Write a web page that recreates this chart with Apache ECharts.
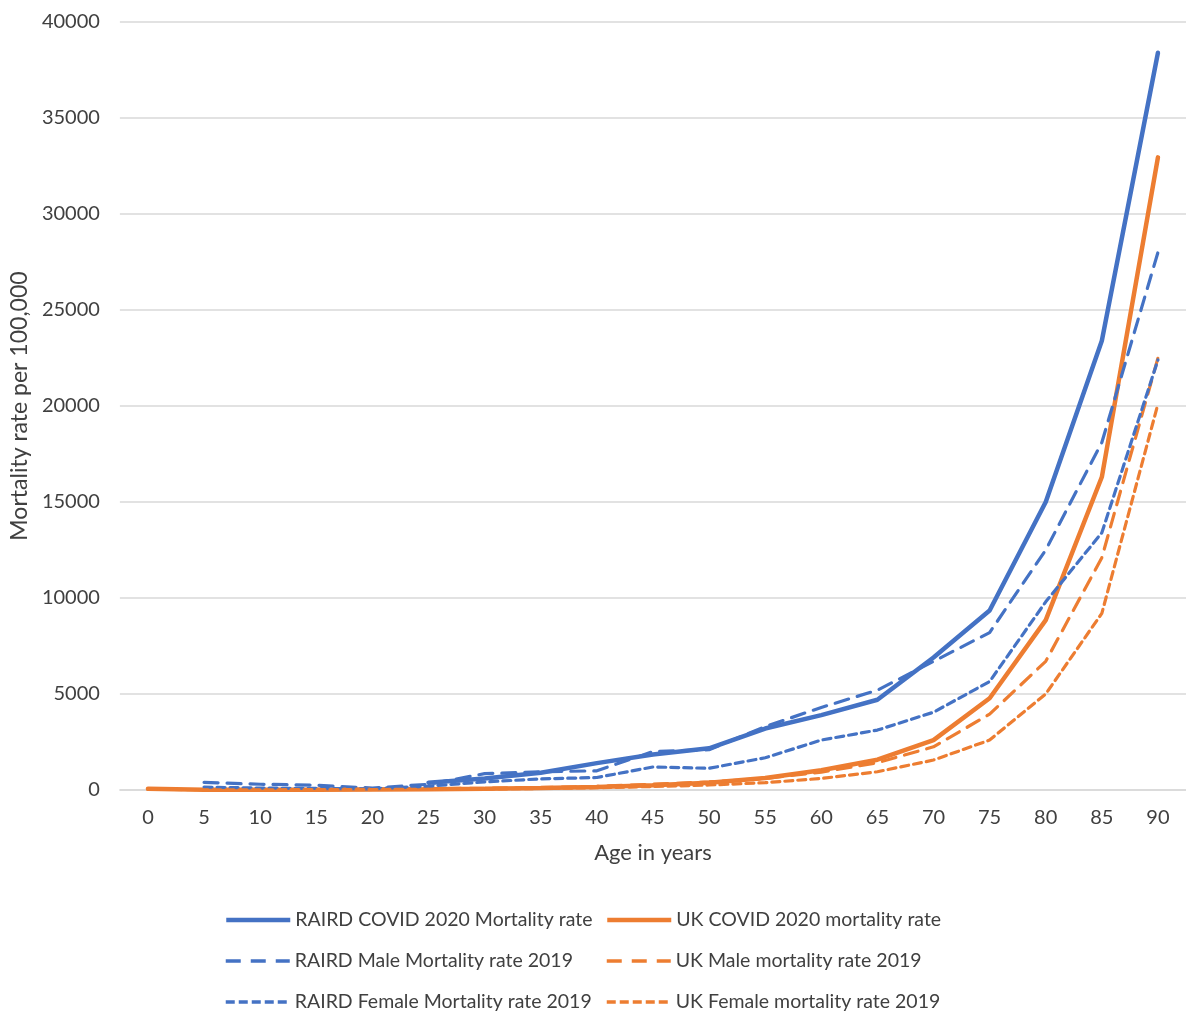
<!DOCTYPE html>
<html>
<head>
<meta charset="utf-8">
<script src="https://cdn.jsdelivr.net/npm/echarts@6/dist/echarts.min.js"></script>
<style>html,body{margin:0;padding:0;background:#fff}#c{width:1186px;height:1011px}</style>
</head>
<body>
<div id="c"></div>
<script>
const ages = ['0','5','10','15','20','25','30','35','40','45','50','55','60','65','70','75','80','85','90'];
const raird2020 = [null,null,null,null,null,380,600,900,1400,1850,2170,3200,3900,4700,6900,9350,15000,23400,38400];
const ukCovid2020 = [60,15,10,15,25,40,60,100,150,250,380,620,1030,1580,2600,4780,8850,16300,32950];
const rairdMale2019 = [null,400,300,250,100,300,850,950,1000,2000,2100,3300,4300,5200,6700,8200,12500,18100,28000];
const ukMale2019 = [50,15,12,30,60,70,90,130,190,300,420,600,930,1420,2250,3950,6700,12100,22500];
const rairdFemale2019 = [null,150,100,80,60,200,420,580,650,1200,1130,1680,2600,3120,4050,5650,9800,13400,22400];
const ukFemale2019 = [40,12,10,20,25,35,50,80,120,180,260,380,600,950,1560,2600,5000,9200,20100];
const yTicks = [0,5000,10000,15000,20000,25000,30000,35000,40000];
const legendLeft = ['RAIRD COVID 2020 Mortality rate', 'RAIRD Male Mortality rate 2019', 'RAIRD Female Mortality rate 2019'];
const legendRight = ['UK COVID 2020 mortality rate', 'UK Male mortality rate 2019', 'UK Female mortality rate 2019'];

const BLUE = '#4472C4', ORANGE = '#ED7D31';
const FONT = 'Lato';
const DASH_LONG = [14, 9], DASH_SHORT = [8, 5];
function mk(name, data, color, type, width) {
  return {
    name, type: 'line', data, symbol: 'none', connectNulls: false,
    lineStyle: { color, width, type, cap: 'round' },
    itemStyle: { color }, emphasis: { disabled: true }
  };
}
const rowTops = [905, 946, 987];
const rowStyles = [['solid', 4.5], [[15, 10], 3.5], [[9, 4], 3.5]];
const legends = [];
[[legendLeft, 219, BLUE], [legendRight, 600, ORANGE]].forEach(([names, left, color]) => {
  names.forEach((n, i) => legends.push({
    left, top: rowTops[i], itemWidth: 64, itemHeight: 14, data: [n],
    itemStyle: { opacity: 0 },
    lineStyle: { width: rowStyles[i][1], type: rowStyles[i][0], color, cap: 'butt' },
    textStyle: { fontSize: 19.5, color: '#404040', fontFamily: FONT }, selectedMode: false
  }));
});

const chart = echarts.init(document.getElementById('c'), null, { renderer: 'canvas' });
chart.setOption({
  animation: false,
  backgroundColor: '#fff',
  textStyle: { fontFamily: FONT },
  grid: { left: 118, top: 22, width: 1073.5, bottom: 221, containLabel: false },
  xAxis: {
    type: 'category', data: ages, boundaryGap: true,
    name: 'Age in years', nameLocation: 'middle', nameGap: 52,
    nameTextStyle: { fontSize: 22, color: '#404040', fontFamily: FONT },
    axisLine: { show: true, lineStyle: { color: '#d9d9d9', width: 1.5 } },
    axisTick: { show: false },
    axisLabel: { fontSize: 20, color: '#404040', margin: 18, fontFamily: FONT, interval: 0 }
  },
  yAxis: {
    type: 'value', min: yTicks[0], max: yTicks[yTicks.length - 1], interval: yTicks[1] - yTicks[0],
    name: 'Mortality rate per 100,000', nameLocation: 'middle', nameGap: 86, nameRotate: 90,
    nameTextStyle: { fontSize: 23, color: '#404040', fontFamily: FONT },
    axisLine: { show: false }, axisTick: { show: false },
    axisLabel: { fontSize: 20, color: '#404040', margin: 20, fontFamily: FONT, formatter: v => String(v) },
    splitLine: { lineStyle: { color: '#d9d9d9', width: 1.5 } }
  },
  legend: legends,
  series: [
    mk('RAIRD COVID 2020 Mortality rate', raird2020, BLUE, 'solid', 4.5),
    mk('UK COVID 2020 mortality rate', ukCovid2020, ORANGE, 'solid', 4.5),
    mk('RAIRD Male Mortality rate 2019', rairdMale2019, BLUE, DASH_LONG, 3.2),
    mk('UK Male mortality rate 2019', ukMale2019, ORANGE, DASH_LONG, 3.2),
    mk('RAIRD Female Mortality rate 2019', rairdFemale2019, BLUE, DASH_SHORT, 3.2),
    mk('UK Female mortality rate 2019', ukFemale2019, ORANGE, DASH_SHORT, 3.2)
  ]
});
</script>
</body>
</html>
